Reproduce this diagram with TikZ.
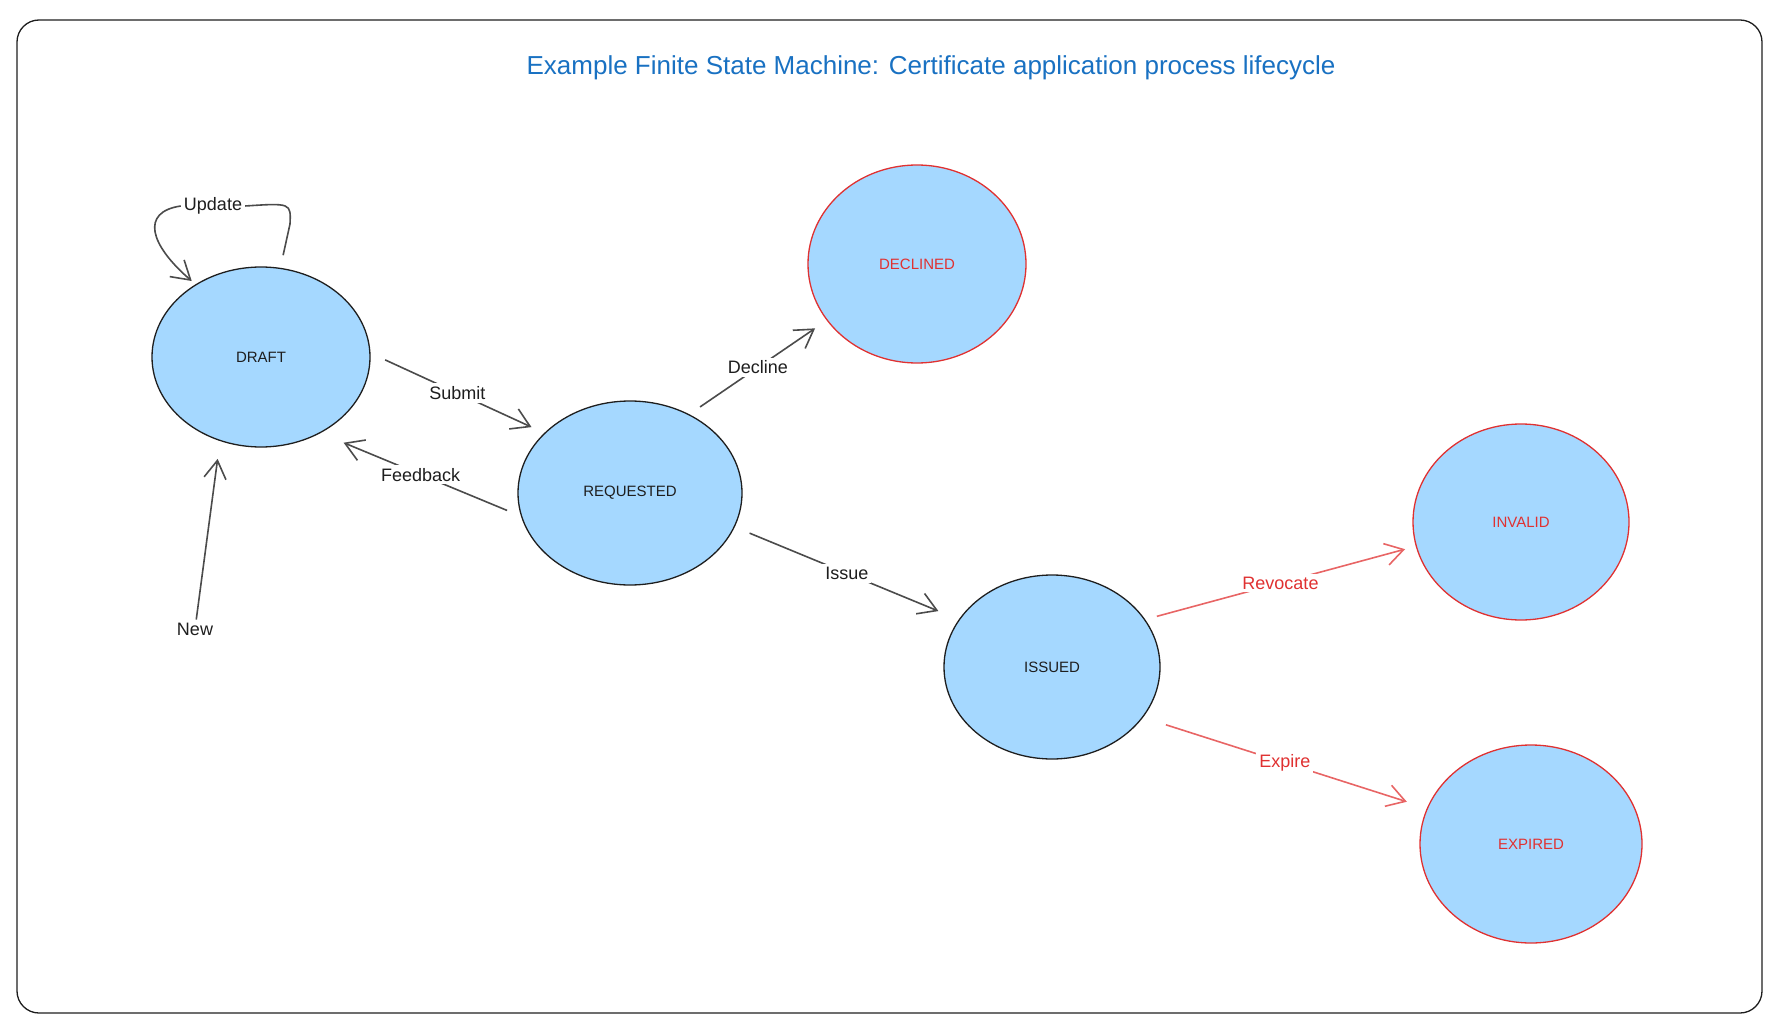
\documentclass[tikz,border=0pt]{standalone}
\usepackage{fontspec}
\setmainfont{Liberation Sans}
\usetikzlibrary{positioning, arrows.meta, shapes.geometric}
\definecolor{stfill}{HTML}{A5D8FF}
\definecolor{inkblk}{HTML}{1E1E1E}
\definecolor{inkred}{HTML}{E03131}
\definecolor{ttlblue}{HTML}{1971C2}
\tikzset{
  st/.style={ellipse, draw=inkblk, fill=stfill, line width=1.3pt, inner sep=0pt,
             font=\fontsize{15}{17}\selectfont, text=inkblk},
  stend/.style={st, draw=inkred, text=inkred},       % end states in red
  lbl/.style={fill=white, inner sep=3pt, font=\fontsize{18}{20}\selectfont, text=inkblk},
  rlbl/.style={lbl, text=inkred},
  tr/.style={-{Straight Barb[length=18pt, width=22pt]}, line width=1.6pt, draw=inkblk!80},
  rtr/.style={tr, draw=inkred!75},
}

\begin{document}
\begin{tikzpicture}[x=1pt, y=-1pt]
  \useasboundingbox (0,0) rectangle (1780,1032);
  \draw[line width=1.3pt, draw=inkblk, rounded corners=22pt] (17,20) rectangle (1762,1013);
  \node[text=ttlblue, font=\fontsize{26}{30}\selectfont] (ttl) at (931,68)
    {Example Finite State Machine: Certificate application process lifecycle};

  % states
  \node[st, minimum width=218pt, minimum height=180pt] (draft) at (261,357) {DRAFT};
  \node[st, minimum width=224pt, minimum height=184pt] (req) at (630,493) {REQUESTED};
  \node[stend, minimum width=218pt, minimum height=198pt] (decl) at (917,264) {DECLINED};
  \node[st, minimum width=216pt, minimum height=184pt] (iss) at (1052,667) {ISSUED};
  \node[stend, minimum width=216pt, minimum height=196pt] (inval) at (1521,522) {INVALID};
  \node[stend, minimum width=222pt, minimum height=198pt] (expd) at (1531,844) {EXPIRED};

  % transitions
  \node[lbl] (upd) at (213,206) {Update};
  \node[lbl, fill=none] (new) at (195,629) {New};
  \draw[tr, arrows=-] ([yshift=13pt]draft.76) -- (290,224) .. controls (291,203) .. (upd.east);
  \draw[tr, shorten >=5pt] (upd.west) .. controls (140,212) and (150,245) .. (draft.132);
  \draw[tr, shorten >=18pt] (new) -- (draft.244);
  \draw[tr, shorten <=16pt, shorten >=14pt] (draft.2) -- (req.145) node[lbl, midway]{Submit};
  \draw[tr, shorten <=15pt, shorten >=25pt] (req.192) -- (draft.-52) node[lbl, midway]{Feedback};
  \draw[tr, shorten <=13pt, shorten >=14pt] (req.53) -- (decl.212) node[lbl, midway]{Decline};
  \draw[tr, shorten <=16pt, shorten >=22pt] (req.-18) -- (iss.153) node[lbl, midway]{Issue};
  \draw[rtr, shorten <=12pt, shorten >=11pt] (iss.27) -- (inval.193) node[rlbl, midway]{Revocate};
  \draw[rtr, shorten <=24pt, shorten >=21pt] (iss.-29) -- (expd.161) node[rlbl, midway]{Expire};
\end{tikzpicture}
\end{document}
